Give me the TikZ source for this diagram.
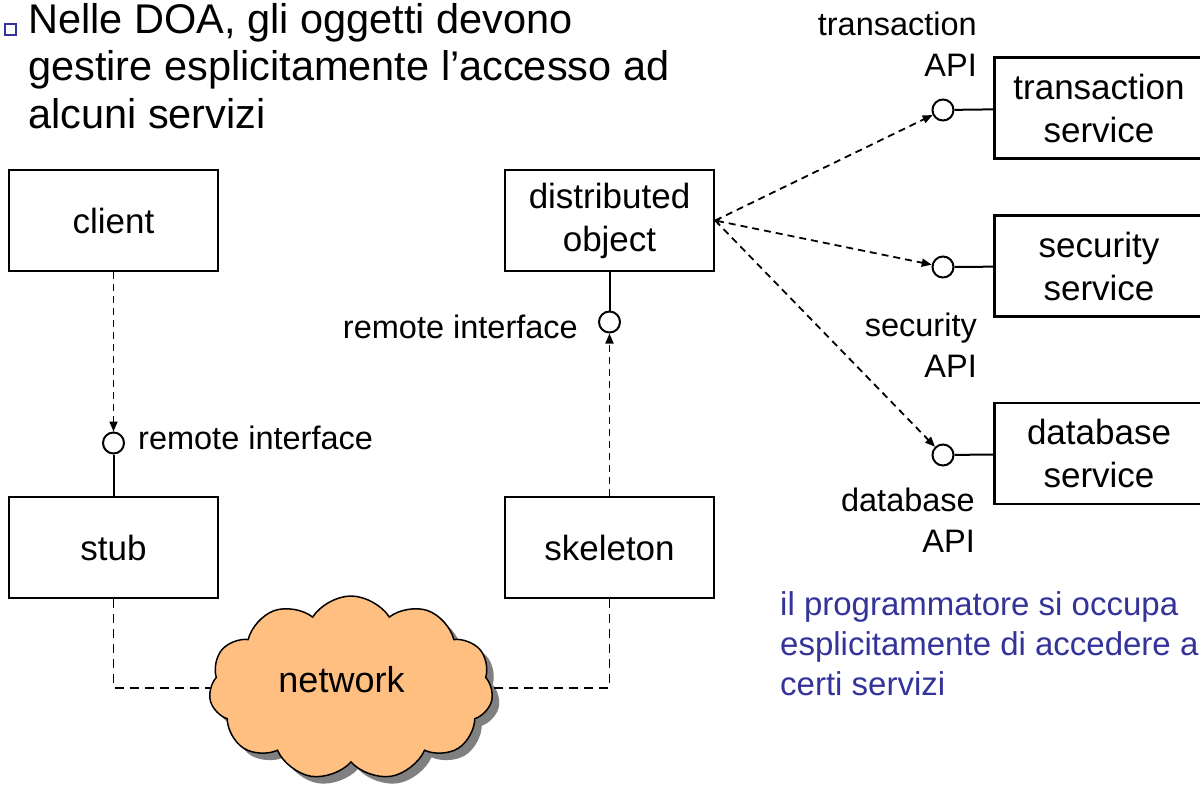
\documentclass[tikz,border=0pt]{standalone}
\usepackage{fontspec}
\setmainfont{Liberation Sans}
\usetikzlibrary{shapes.symbols,shadows,arrows.meta}
\definecolor{ppblue}{RGB}{51,51,153}
\definecolor{cloudorange}{RGB}{255,191,128}
\begin{document}
\begin{tikzpicture}[x=1pt,y=-1pt,
  box/.style={draw, line width=2.4pt, minimum width=209pt, minimum height=101pt, inner sep=0pt, align=center, font=\fontsize{35}{43}\selectfont},
  lolli/.style={draw, circle, line width=2pt, minimum size=21pt, inner sep=0pt, fill=white},
  dep/.style={line width=1.8pt, dash pattern=on 7pt off 5pt, -{Triangle[length=10pt,width=8pt]}},
  conn/.style={line width=2pt},
  netline/.style={line width=1.8pt, dash pattern=on 9pt off 6pt},
  lbl/.style={inner sep=0pt, font=\fontsize{32.5}{40.5}\selectfont},
  bluetxt/.style={inner sep=0pt, text=ppblue, align=left, font=\fontsize{33}{40}\selectfont},
  titletxt/.style={inner sep=0pt, align=left, font=\fontsize{41.5}{47.5}\selectfont},
  bullet/.style={draw=ppblue, line width=2pt, minimum size=11pt, inner sep=0pt},
  netcloud/.style={cloud, cloud puffs=11, cloud puff arc=115, cloud ignores aspect, draw, line width=1.5pt, fill=cloudorange, minimum width=284pt, minimum height=184pt, inner sep=0pt,
    drop shadow={shadow xshift=7pt, shadow yshift=-7pt, fill=black!50, opacity=1}}
]
\useasboundingbox (0,0) rectangle (1200,785);
\clip (0,0) rectangle (1200,785);

% title
\node[bullet] (bul) at (10.5,29) {};
\node[titletxt, anchor=base west] (title) at (28,128) {Nelle DOA, gli oggetti devono\\gestire esplicitamente l’accesso ad\\alcuni servizi};

% boxes
\node[box] (client) at (113.5,220.5) {client};
\node[box] (stub) at (113.5,547.5) {stub};
\node[box] (dobj) at (609.5,220.5) {distributed\\object};
\node[box] (skel) at (609.5,547.5) {skeleton};
\node[box] (tsvc) at (1099,108) {transaction\\service};
\node[box] (ssvc) at (1099,266) {security\\service};
\node[box] (dsvc) at (1099,453.5) {database\\service};

% lollipops
\node[lolli] (cri) at (113.5,443) {};
\node[lolli] (sri) at (609.5,322) {};
\node[lolli] (tapi) at (943,110) {};
\node[lolli] (sapi) at (943,267) {};
\node[lolli] (dapi) at (943,455) {};

% cloud
\node[netcloud] (cloud) at (351,688) {};
\node[inner sep=0pt, anchor=base, font=\fontsize{36}{43}\selectfont] (nettxt) at (341.5,692) {network};

% labels
\node[lbl, anchor=base west] (crilbl) at (138,449) {remote interface};
\node[lbl, anchor=base east] (srilbl) at (578,338) {remote interface};
\node[lbl, anchor=base east, align=right] (tlbl) at (977,76) {transaction\\API};
\node[lbl, anchor=base east, align=right] (slbl) at (977,377) {security\\API};
\node[lbl, anchor=base east, align=right] (dlbl) at (975,552) {database\\API};

\node[bluetxt, anchor=base west] (note) at (780,695) {il programmatore si occupa\\esplicitamente di accedere a\\certi servizi};

% connectors
\draw[dep] (client.south) -- (cri);
\draw[conn] (cri) -- (stub.north);
\draw[dep] (skel.north) -- (sri);
\draw[conn] (sri) -- (dobj.south);
\draw[dep] (dobj.east) -- (tapi);
\draw[dep, {To[length=5pt,width=8pt]}-{Triangle[length=10pt,width=8pt]}] (dobj.east) -- (sapi);
\draw[dep] (dobj.east) -- (dapi);
\draw[conn] (tapi) -- (tsvc);
\draw[conn] (sapi) -- (ssvc);
\draw[conn] (dapi) -- (dsvc);
\draw[netline] (stub.south) |- (cloud.west);
\draw[netline] (skel.south) |- (cloud.east);
\end{tikzpicture}
\end{document}
